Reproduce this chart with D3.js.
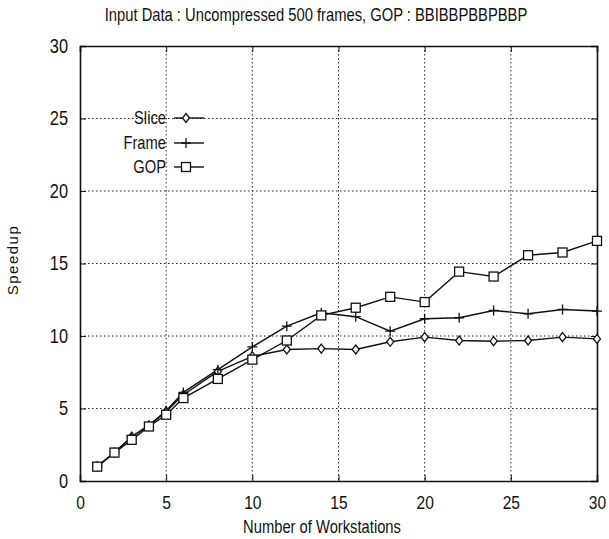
<!DOCTYPE html>
<html>
<head>
<meta charset="utf-8">
<script src="https://cdn.jsdelivr.net/npm/d3@7"></script>
<style>
  body { margin: 0; background: #fff; }
  text { font-family: "Liberation Sans", Arial, sans-serif; fill: #111; }
</style>
</head>
<body>
<svg width="609" height="539"></svg>
<script>
// Data
var workstations = [1, 2, 3, 4, 5, 6, 8, 10, 12, 14, 16, 18, 20, 22, 24, 26, 28, 30];
var sliceSpeedup = [1.0, 1.97, 3.05, 3.8, 4.8, 5.95, 7.56, 8.6, 9.07, 9.13, 9.07, 9.6, 9.92, 9.69, 9.64, 9.69, 9.92, 9.8];
var frameSpeedup = [1.0, 1.97, 3.05, 3.85, 4.85, 6.11, 7.68, 9.25, 10.68, 11.6, 11.33, 10.33, 11.19, 11.26, 11.76, 11.53, 11.83, 11.72];
var gopSpeedup   = [0.99, 1.96, 2.84, 3.76, 4.57, 5.72, 7.04, 8.37, 9.69, 11.42, 11.95, 12.7, 12.34, 14.44, 14.1, 15.57, 15.76, 16.56];
var seriesNames = ["Slice", "Frame", "GOP"];
var xTicks = [0, 5, 10, 15, 20, 25, 30];
var yTicks = [0, 5, 10, 15, 20, 25, 30];

var svg = d3.select("svg");

// plot box
var plotL = 80, plotR = 597, plotT = 46, plotB = 481;
var narrow = 0.82; // the original uses a condensed face

var x = d3.scaleLinear().domain([0, 30]).range([plotL, plotR]);
var y = d3.scaleLinear().domain([0, 30]).range([plotB, plotT]);

// condensed text helper
function narrowText(g, tx, ty, str, size, anchor) {
  return g.append("text")
    .attr("transform", "translate(" + tx + "," + ty + ") scale(" + narrow + ",1)")
    .attr("text-anchor", anchor || "middle")
    .style("font-size", size + "px")
    .text(str);
}

// title
narrowText(svg, 316, 21, "Input Data : Uncompressed 500 frames, GOP : BBIBBPBBPBBP", 18);

// dotted grid
var grid = svg.append("g").attr("stroke", "#222").attr("stroke-width", 1).attr("stroke-dasharray", "1.5,2.5");
grid.selectAll("line.gx")
  .data(xTicks.slice(1, -1))
  .enter().append("line")
    .attr("x1", d => x(d)).attr("x2", d => x(d))
    .attr("y1", plotT).attr("y2", plotB);
grid.selectAll("line.gy")
  .data(yTicks.slice(1, -1))
  .enter().append("line")
    .attr("y1", d => y(d)).attr("y2", d => y(d))
    .attr("x1", plotL).attr("x2", plotR);

// axes (ticks pointing in)
var xAxis = svg.append("g")
  .attr("transform", "translate(0," + plotB + ")")
  .call(d3.axisBottom(x).tickValues(xTicks).tickSize(-6).tickPadding(13));
var yAxis = svg.append("g")
  .attr("transform", "translate(" + plotL + ",0)")
  .call(d3.axisLeft(y).tickValues(yTicks).tickSize(-6).tickPadding(12));
svg.append("g")
  .attr("transform", "translate(0," + plotT + ")")
  .call(d3.axisTop(x).tickValues(xTicks).tickSize(-6).tickFormat(""));
svg.append("g")
  .attr("transform", "translate(" + plotR + ",0)")
  .call(d3.axisRight(y).tickValues(yTicks).tickSize(-6).tickFormat(""));

svg.selectAll(".domain").attr("stroke", "#111").attr("stroke-width", 1.6);
svg.selectAll(".tick line").attr("stroke", "#111");
svg.selectAll(".tick text")
  .style("font-size", "20px")
  .style("font-family", "'Liberation Sans', Arial, sans-serif")
  .attr("fill", "#111");
xAxis.selectAll(".tick text").style("font-size", "19px").attr("dy", "0.8em").attr("transform", "scale(" + narrow + ",1)");
yAxis.selectAll(".tick text").attr("x", -12 / narrow).attr("transform", "scale(" + narrow + ",1)");

// axis titles
narrowText(svg, 322, 533, "Number of Workstations", 18);
svg.append("text")
  .attr("transform", "translate(18,260) rotate(-90)")
  .attr("text-anchor", "middle")
  .style("font-size", "15px")
  .style("letter-spacing", "1.5px")
  .text("Speedup");

// series
var series = [
  { name: seriesNames[0], values: sliceSpeedup, marker: "diamond" },
  { name: seriesNames[1], values: frameSpeedup, marker: "plus" },
  { name: seriesNames[2], values: gopSpeedup, marker: "square" }
];

var line = d3.line()
  .x((d, i) => x(workstations[i]))
  .y(d => y(d));

function drawMarker(g, type, cx, cy) {
  if (type === "diamond") {
    g.append("path")
      .attr("d", "M" + cx + "," + (cy - 4.5) + "L" + (cx + 3.5) + "," + cy + "L" + cx + "," + (cy + 4.5) + "L" + (cx - 3.5) + "," + cy + "Z")
      .attr("fill", "#fff").attr("stroke", "#111").attr("stroke-width", 1.3);
  } else if (type === "plus") {
    g.append("path")
      .attr("d", "M" + (cx - 5) + "," + cy + "H" + (cx + 5) + "M" + cx + "," + (cy - 5) + "V" + (cy + 5))
      .attr("stroke", "#111").attr("stroke-width", 1.3);
  } else {
    g.append("rect")
      .attr("x", cx - 4.5).attr("y", cy - 4.5).attr("width", 9).attr("height", 9)
      .attr("fill", "#fff").attr("stroke", "#111").attr("stroke-width", 1.3);
  }
}

series.forEach(function (s) {
  svg.append("path")
    .datum(s.values)
    .attr("fill", "none")
    .attr("stroke", "#111")
    .attr("stroke-width", 1.4)
    .attr("d", line);
});
series.forEach(function (s) {
  var g = svg.append("g");
  s.values.forEach(function (v, i) {
    drawMarker(g, s.marker, x(workstations[i]), y(v));
  });
});

// legend
var legendY = [118, 143, 167];
series.forEach(function (s, i) {
  var g = svg.append("g");
  narrowText(g, 166, legendY[i] + 6, s.name, 18, "end");
  g.append("line")
    .attr("x1", 174).attr("x2", 204)
    .attr("y1", legendY[i]).attr("y2", legendY[i])
    .attr("stroke", "#111").attr("stroke-width", 1.4);
  drawMarker(g, s.marker, 186, legendY[i]);
});
</script>
</body>
</html>
